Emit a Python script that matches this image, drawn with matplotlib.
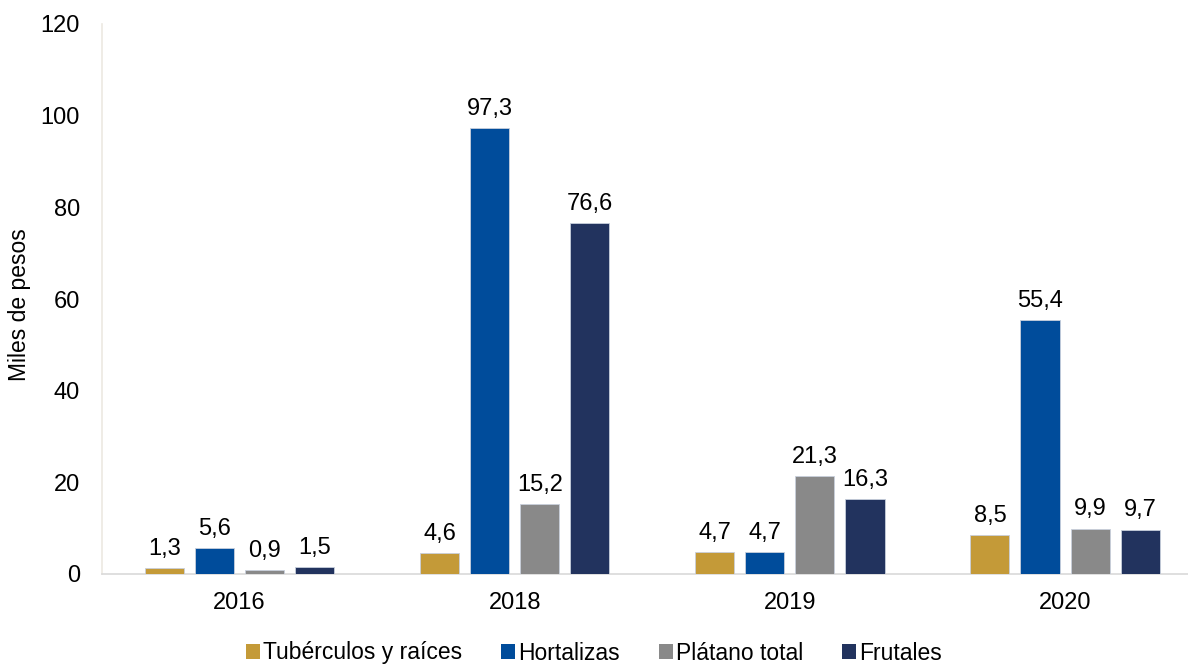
import numpy as np
import matplotlib
matplotlib.use("Agg")
import matplotlib.pyplot as plt
from matplotlib.patches import Patch

plt.rcParams['font.family'] = ['Liberation Sans', 'DejaVu Sans']

# Data
years = ['2016', '2018', '2019', '2020']
series_names = ['Tubérculos y raíces', 'Hortalizas', 'Plátano total', 'Frutales']
tuberculos = [1.3, 4.6, 4.7, 8.5]
hortalizas = [5.6, 97.3, 4.7, 55.4]
platano = [0.9, 15.2, 21.3, 9.9]
frutales = [1.5, 76.6, 16.3, 9.7]

colors = ['#C49A38', '#004C9B', '#898989', '#22335E']
values = [tuberculos, hortalizas, platano, frutales]

fig = plt.figure(figsize=(11.88, 6.66), dpi=100)
ax = fig.add_axes([102 / 1188, 92 / 666, 1 - 102 / 1188, (574 - 24) / 666])

x = np.arange(len(years))
width = 0.142
offsets = [-0.273, -0.091, 0.091, 0.273]

for vals, off, col in zip(values, offsets, colors):
    bars = ax.bar(x + off, vals, width, color=col, edgecolor='#c8cfdc', linewidth=0.6, zorder=3)
    for b, v in zip(bars, vals):
        ax.annotate(f'{v:.1f}'.replace('.', ','), (b.get_x() + b.get_width() / 2, v),
                    xytext=(0, 6), textcoords='offset points', ha='center', va='bottom', fontsize=17)

ax.set_xlim(-0.5, 3.447)
ax.set_ylim(0, 120)
ax.set_yticks(range(0, 121, 20))
ax.set_xticks(x)
ax.set_xticklabels(years)
ax.tick_params(axis='both', length=0, labelsize=17)
ax.tick_params(axis='y', pad=16)
ax.tick_params(axis='x', pad=13)

for s in ['top', 'right']:
    ax.spines[s].set_visible(False)
ax.spines['left'].set_color('#ece9e2')
ax.spines['bottom'].set_color('#d9d9d9')
ax.spines['left'].set_linewidth(1.2)
ax.spines['bottom'].set_linewidth(1.2)

fig.text(20 / 1188, 1 - 305 / 666, 'Miles de pesos', rotation=90, ha='center', va='center', fontsize=16.5)

handles = [Patch(facecolor=c, label=n) for c, n in zip(colors, series_names)]
fig.legend(handles=handles, loc='center', bbox_to_anchor=(0.5, 1 - 653 / 666), ncol=4,
           frameon=False, fontsize=16.5, handlelength=0.6, handleheight=0.6,
           handletextpad=0.15, columnspacing=1.7, borderpad=0)

fig.savefig('out.png', dpi=100)
